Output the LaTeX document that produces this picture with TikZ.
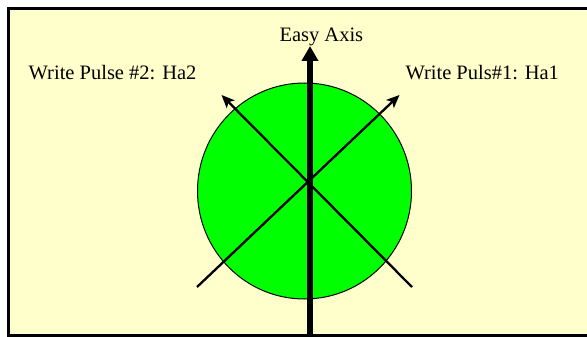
\documentclass[tikz,border=0pt]{standalone}
\usepackage{fontspec}
\setmainfont{Liberation Serif}
\usetikzlibrary{arrows.meta,shapes.geometric}
\definecolor{bgyellow}{HTML}{FFFFCC}
\definecolor{disk}{HTML}{00FF00}
\tikzset{
  lbl/.style={inner sep=0pt, font=\fontsize{20.5}{24}\selectfont},
  pulse/.style={line width=2.3pt, -{Stealth[length=13pt,width=11pt,inset=3pt]}},
  axisarrow/.style={line width=6pt, -{Triangle[length=15pt,width=16pt]}},
}
\begin{document}
\begin{tikzpicture}[x=1pt,y=-1pt]
\useasboundingbox (0,0) rectangle (587,337);
\begin{scope}
\clip (0,0) rectangle (587,337);
\fill[white] (0,0) rectangle (587,337);
\draw[line width=3pt, fill=bgyellow] (8.5,8.5) rectangle (600,335.5);
\end{scope}
\node[draw=black, line width=1pt, fill=disk, ellipse, inner sep=0pt,
      minimum width=214pt, minimum height=216pt] (disk) at (304.5,191) {};
\coordinate (axbot) at (310,337);
\coordinate (axtop) at (310,46);
\coordinate (p1s) at (197,287);
\coordinate (p1e) at (399.5,95);
\coordinate (p2s) at (412,287);
\coordinate (p2e) at (221.5,95);
\draw[pulse] (p1s) -- (p1e);
\draw[pulse] (p2s) -- (p2e);
\draw[axisarrow] (axbot) -- (axtop);
\node[lbl, anchor=base west] (easy) at (279.3,41.7) {Easy Axis};
\node[lbl, anchor=base west] (ha2) at (28.5,79.5) {Write Pulse \#2: Ha2};
\node[lbl, anchor=base west] (ha1) at (405.3,79.5) {Write Puls\#1: Ha1};
\end{tikzpicture}
\end{document}
